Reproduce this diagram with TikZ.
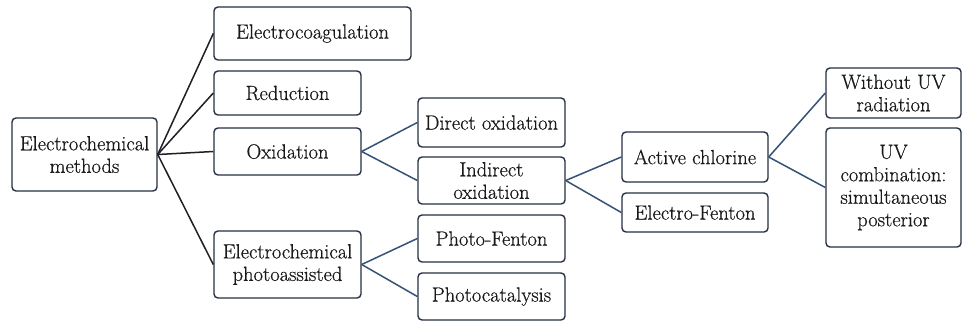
\documentclass[tikz,border=0pt]{standalone}
\usepackage{fontspec}
\newfontfamily\heavyfont{Latin Modern Roman}[FakeBold=0.5]
\definecolor{boxline}{RGB}{38,48,66}
\definecolor{darkline}{RGB}{30,32,38}
\definecolor{blueline}{RGB}{52,82,118}
\definecolor{txt}{RGB}{25,25,25}
\begin{document}
\begin{tikzpicture}[x=1pt,y=-1pt,
  box/.style={draw=boxline, line width=1.4pt, rounded corners=4pt, inner sep=0pt,
    align=center, text=txt, font=\heavyfont\fontsize{20.5}{22.5}\selectfont},
  rootlink/.style={draw=darkline, line width=1.5pt},
  sublink/.style={draw=blueline, line width=1.5pt}]
\useasboundingbox[fill=white] (0,0) rectangle (963,322);
\node[box, minimum width=145pt, minimum height=73pt] (root) at (84.5,154.5) {Electrochemical\\methods};
\node[box, minimum width=197pt, minimum height=53pt] (ecoag) at (312.5,33.5) {Electrocoagulation};
\node[box, minimum width=147pt, minimum height=44pt] (red) at (287.5,93) {Reduction};
\node[box, minimum width=147pt, minimum height=47pt] (ox) at (287.5,151.5) {Oxidation};
\node[box, minimum width=147pt, minimum height=67pt] (photo) at (287.5,264.5) {Electrochemical\\photoassisted};
\node[box, minimum width=147pt, minimum height=49pt] (dox) at (491.5,122.5) {Direct oxidation};
\node[box, minimum width=147pt, minimum height=47pt] (iox) at (491.5,180.5) {Indirect\\oxidation};
\node[box, minimum width=147pt, minimum height=47pt] (pf) at (491.5,238.5) {Photo-Fenton};
\node[box, minimum width=147pt, minimum height=47pt] (pc) at (491.5,296.5) {Photocatalysis};
\node[box, minimum width=146pt, minimum height=50pt] (ac) at (695,157) {Active chlorine};
\node[box, minimum width=146pt, minimum height=39pt] (ef) at (695,212.5) {Electro-Fenton};
\node[box, minimum width=135pt, minimum height=50pt] (wuv) at (893.5,93) {Without UV\\radiation};
\node[box, minimum width=135pt, minimum height=119pt] (uvc) at (893.5,187.5) {UV\\combination:\\simultaneous\\posterior};
\draw[rootlink] (root.east) -- (ecoag.west);
\draw[rootlink] (root.east) -- (red.west);
\draw[rootlink] (root.east) -- (ox.west);
\draw[rootlink] (root.east) -- (photo.west);
\draw[sublink] (ox.east) -- (dox.west);
\draw[sublink] (ox.east) -- (iox.west);
\draw[sublink] (photo.east) -- (pf.west);
\draw[sublink] (photo.east) -- (pc.west);
\draw[sublink] (iox.east) -- (ac.west);
\draw[sublink] (iox.east) -- (ef.west);
\draw[sublink] (ac.east) -- (wuv.west);
\draw[sublink] (ac.east) -- (uvc.west);
\end{tikzpicture}
\end{document}
